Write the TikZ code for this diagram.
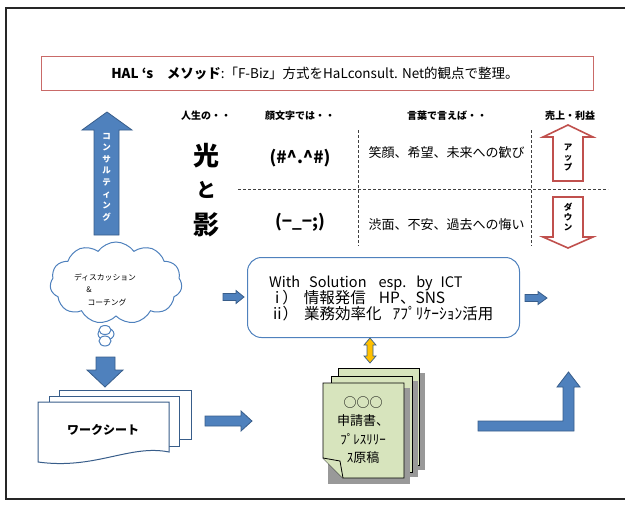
\documentclass[tikz,border=0pt]{standalone}
\usepackage{fontspec}
\setmainfont{Noto Sans CJK JP}
\usetikzlibrary{shapes.symbols}
\definecolor{bfill}{HTML}{4F81BD}
\definecolor{bline}{HTML}{385D8A}
\definecolor{rline}{HTML}{C0504D}
\definecolor{gfill}{HTML}{D7E4BD}
\definecolor{ofill}{HTML}{FFC000}
\tikzset{
  blockarrow/.style={fill=bfill,draw=bline,line width=0.8pt,line join=miter},
  redarrow/.style={fill=white,draw=rline,line width=1.6pt,line join=miter},
  sheet/.style={fill=white,draw=bline,line width=1pt},
  gsheet/.style={fill=gfill,draw=black,line width=0.8pt},
  gshadow/.style={fill=black!40,draw=none},
  sep/.style={draw=black!75,dashed,line width=0.7pt,dash pattern=on 3pt off 2pt},
  hdr/.style={font=\fontsize{10}{12}\selectfont\bfseries},
  body/.style={font=\fontsize{13}{15}\selectfont},
  soltxt/.style={font=\fontsize{14.5}{16}\selectfont,anchor=base west,inner sep=0pt},
  soljp/.style={font=\fontsize{15.5}{16}\selectfont,anchor=base west,inner sep=0pt},
  vtxt/.style={align=center,inner sep=0pt}
}
\begin{document}
\begin{tikzpicture}[x=1pt,y=-1pt]
\useasboundingbox (0,0) rectangle (625,507);
% outer frame
\draw[line width=2.4pt,black!85] (625,8) -- (6,8) -- (6,499) -- (625,499);
% title
\node[draw=rline!85,line width=1.2pt,minimum width=552,minimum height=34,anchor=north west,inner sep=0pt] (title) at (41,56) {};
\node[font=\fontsize{13.5}{15}\selectfont] (titletext) at (315,73) {\textbf{HAL ‘s　メソッド}:「F-Biz」方式をHaLconsult. Net的観点で整理。};
% headers
\node[hdr] (h1) at (206,116) {人生の・・};
\node[hdr] (h2) at (300,116) {顔文字では・・};
\node[hdr] (h3) at (447,116) {言葉で言えば・・};
\node[hdr] (h4) at (570,116) {売上・利益};
% hikari to kage
\node[font=\fontsize{26}{28}\selectfont\bfseries] (hikari) at (206,156) {光};
\node[font=\fontsize{20}{22}\selectfont\bfseries] (to) at (206,190) {と};
\node[font=\fontsize{26}{28}\selectfont\bfseries] (kage) at (206,225) {影};
\node[font=\fontsize{17}{19}\selectfont\bfseries] (k1) at (300,158) {(\#\textasciicircum.\textasciicircum\#)};
\node[font=\fontsize{17}{19}\selectfont\bfseries] (k2) at (300,222) {(−\_−;)};
% dashed separators
\coordinate (v1t) at (358,130); \coordinate (v1b) at (358,246);
\coordinate (v2t) at (531,130); \coordinate (v2b) at (531,246);
\coordinate (hl) at (238,189); \coordinate (hr) at (608,189);
\draw[sep] (v1t) -- (v1b);
\draw[sep] (v2t) -- (v2b);
\draw[sep] (hl) -- (hr);
\node[body,anchor=west] (w1) at (365,153) {笑顔、希望、未来への歓び};
\node[body,anchor=west] (w2) at (365,225) {渋面、不安、過去への悔い};
% red arrows
\draw[redarrow] (553,181) -- (553,137) -- (543,137) -- (568,125) -- (593,137) -- (583,137) -- (583,181) -- cycle;
\node[vtxt,font=\fontsize{8.5}{10}\selectfont\bfseries] (up) at (568,158) {ア\\ッ\\プ};
\draw[redarrow] (553,197) -- (583,197) -- (583,237) -- (593,237) -- (568,248) -- (543,237) -- (553,237) -- cycle;
\node[vtxt,font=\fontsize{8.5}{10}\selectfont\bfseries] (down) at (568,217) {ダ\\ウ\\ン};
% consulting arrow
\draw[blockarrow] (94,235) -- (94,130) -- (82,130) -- (107,112) -- (132,130) -- (119,130) -- (119,235) -- cycle;
\node[vtxt,text=white,font=\fontsize{8.5}{11.6}\selectfont\bfseries] (cons) at (106.5,177) {コ\\ン\\サ\\ル\\テ\\ィ\\ン\\グ};
% cloud
\node[cloud,cloud puffs=11,cloud puff arc=110,aspect=1.6,draw=bfill,line width=1pt,fill=white,minimum width=132,minimum height=82,inner sep=0pt] (cloud) at (116,283) {};
\draw[draw=bfill,line width=1pt,fill=white] (106,334) circle[x radius=8,y radius=6];
\draw[draw=bfill,line width=1pt,fill=white] (105,330) circle[x radius=6,y radius=4.5];
\draw[draw=bfill,line width=1pt,fill=white] (105,341) circle[x radius=6,y radius=5];
\node[font=\fontsize{7.8}{9}\selectfont] (c1) at (105,277) {ディスカッション};
\node[font=\fontsize{7.8}{9}\selectfont] (c2) at (89,290) {\&};
\node[font=\fontsize{7.8}{9}\selectfont] (c3) at (107,302) {コーチング};
% small arrows
\draw[blockarrow] (223,293.5) -- (236,293.5) -- (236,290.5) -- (244,297) -- (236,303.5) -- (236,300.5) -- (223,300.5) -- cycle;
\draw[blockarrow] (525,294.5) -- (538,294.5) -- (538,291.5) -- (547,298) -- (538,304.5) -- (538,301.5) -- (525,301.5) -- cycle;
% solution box
\node[draw=bfill,line width=1pt,rounded corners=14pt,minimum width=272,minimum height=80,anchor=north west,inner sep=0pt] (sol) at (247,257) {};
\node[soltxt] (s1) at (269,287) {With\hspace{9pt}Solution\hspace{12pt}esp.\hspace{10pt}by\hspace{8pt}ICT};
\node[soljp] (s2) at (275,303) {i\hspace{3pt}）\hspace{6pt}情報発信\hspace{13pt}HP、SNS};
\node[soljp] (s3) at (273,319) {ii\hspace{1pt}）\hspace{6pt}業務効率化\hspace{11pt}ｱﾌﾟﾘｹｰｼｮﾝ活用};
% orange double arrow
\draw[fill=ofill,draw=bline,line width=0.7pt] (370,338) -- (376,345) -- (373,345) -- (373,356) -- (376,356) -- (370,363) -- (364,356) -- (367,356) -- (367,345) -- (364,345) -- cycle;
% down arrow from cloud
\draw[blockarrow] (96,357) -- (115,357) -- (115,370) -- (123,370) -- (105,387) -- (87,370) -- (96,370) -- cycle;
% worksheets
\draw[sheet] (59,396) -- (59,390) -- (191,390) -- (191,439) -- (180,439);
\draw[sheet] (49,402) -- (49,396) -- (179,396) -- (179,446) -- (169,446);
\draw[sheet] (38,402) -- (169,402) -- (169,452) .. controls (130,444) and (95,470) .. (38,462) -- cycle;
\node[font=\fontsize{12}{14}\selectfont\bfseries] (ws) at (103,430) {ワークシート};
% arrow to green docs
\draw[blockarrow] (205,416) -- (241,416) -- (241,411) -- (252,421) -- (241,431) -- (241,426) -- (205,426) -- cycle;
% green documents
\fill[gshadow] (343,373) rectangle (425,470);
\draw[gsheet] (338,368) rectangle (419,465);
\fill[gshadow] (336,381) rectangle (418,477);
\draw[gsheet] (331,376) rectangle (412,472);
\fill[gshadow] (328,388) rectangle (410,484);
\draw[gsheet] (323,383) -- (404,383) -- (404,478) -- (343,478) -- (323,458) -- cycle;
\draw[gsheet] (323,458) -- (340,461) -- (343,478);
\node[align=center,font=\fontsize{13}{18.5}\selectfont] (gt) at (363,430) {○○○\\申請書、\\ﾌﾟﾚｽﾘﾘｰ\\ｽ原稿};
% bent arrow
\draw[blockarrow] (478,421) -- (563,421) -- (563,387) -- (557,387) -- (568.5,372) -- (580,387) -- (574,387) -- (574,431) -- (478,431) -- cycle;
\end{tikzpicture}
\end{document}
